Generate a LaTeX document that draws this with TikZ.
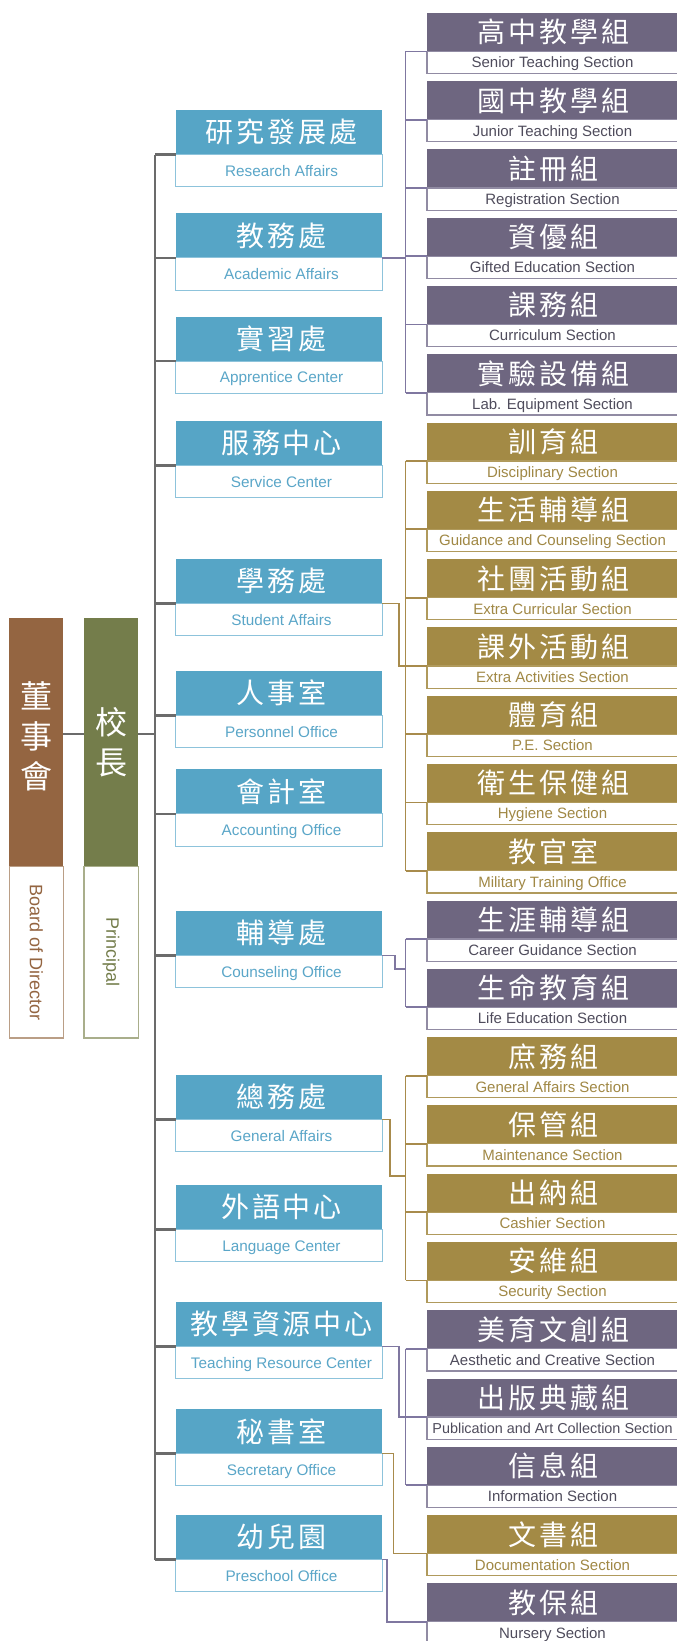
\documentclass[tikz,border=0pt]{standalone}
\usepackage{fontspec}
\setmainfont{Liberation Sans}
\newfontfamily\cjk{Noto Sans CJK TC}[LetterSpace=10.0]
\newfontfamily\cjkv{Noto Sans CJK TC}
\definecolor{blueH}{HTML}{56A5C6}
\definecolor{blueL}{HTML}{8DC3DB}
\definecolor{blueT}{HTML}{5AA6C8}
\definecolor{purpH}{HTML}{6E6680}
\definecolor{purpB}{HTML}{918BA3}
\definecolor{purpT}{HTML}{4F4C5C}
\definecolor{purpL}{HTML}{7F77A0}
\definecolor{goldH}{HTML}{A38A45}
\definecolor{goldB}{HTML}{B09A5C}
\definecolor{goldT}{HTML}{A08845}
\definecolor{goldL}{HTML}{A88B4C}
\definecolor{brownH}{HTML}{946541}
\definecolor{brownB}{HTML}{BA9E86}
\definecolor{oliveH}{HTML}{747D4B}
\definecolor{oliveB}{HTML}{A9AE8B}
\definecolor{trunkC}{HTML}{6B6B6B}
\newcommand\RBox[5]{%
  \pgfmathsetmacro\rtop{12.9+68.28*#2}
  \node[rh#3] (#1h) at (427,\rtop) {\hspace*{2pt}#4};
  \node[rs#3] (#1s) at (#1h.south west) {#5};
}
\newcommand\BBox[4]{%
  \node[bh] (#1h) at (175.7,#2) {\hspace*{5pt}#3};
  \node[bs] (#1s) at (#1h.south west) {\hspace*{5pt}#4};
}
\begin{document}
\begin{tikzpicture}[x=1pt,y=-1pt,
  hd/.style={anchor=north west, inner sep=0pt, outer sep=0pt, text=white,
    font=\cjk\fontsize{28}{30}\selectfont},
  sb/.style={anchor=north west, inner sep=0pt, outer sep=0pt, fill=white, line width=1.2pt,
    font=\fontsize{15}{17}\selectfont, text height=13pt, text depth=2.3pt},
  bh/.style={hd, fill=blueH, minimum width=206.6pt, minimum height=44.5pt},
  bs/.style={sb, draw=blueL, text=blueT, minimum width=206.6pt, minimum height=32.3pt,
    font=\fontsize{15.3}{17}\selectfont},
  rhP/.style={hd, fill=purpH, minimum width=251pt, minimum height=38.5pt},
  rsP/.style={sb, draw=purpB, text=purpT, minimum width=251pt, minimum height=22.2pt},
  rhG/.style={hd, fill=goldH, minimum width=251pt, minimum height=38.5pt},
  rsG/.style={sb, draw=goldB, text=goldT, minimum width=251pt, minimum height=22.2pt},
  trk/.style={draw=trunkC, line width=2.2pt},
  pl/.style={draw=purpL, line width=1.8pt},
  gl/.style={draw=goldL, line width=1.8pt},
  vtext/.style={text=white, font=\cjkv\fontsize{32}{40}\selectfont, align=center, inner sep=0pt}
]
\useasboundingbox (0,0) rectangle (677,1641);
\clip (0,0) rectangle (677,1641);

% Board and Principal
\node[anchor=north west, fill=brownH, minimum width=54pt, minimum height=248.7pt, inner sep=0pt, outer sep=0pt] (Bdh) at (9.3,618) {};
\node[anchor=north west, draw=brownB, line width=1.2pt, fill=white, minimum width=54pt, minimum height=171.3pt, inner sep=0pt, outer sep=0pt, text=brownH, font=\fontsize{18}{20}\selectfont] (Bds) at (Bdh.south west) {\rotatebox{-90}{Board of Director}};
\node[vtext] (Bdt) at (36.3,736) {董\\事\\會};
\node[anchor=north west, fill=oliveH, minimum width=54.3pt, minimum height=248.7pt, inner sep=0pt, outer sep=0pt] (Prh) at (84,618) {};
\node[anchor=north west, draw=oliveB, line width=1.2pt, fill=white, minimum width=54.3pt, minimum height=171.3pt, inner sep=0pt, outer sep=0pt, text=oliveH, font=\fontsize{18}{20}\selectfont] (Prs) at (Prh.south west) {\rotatebox{-90}{Principal}};
\node[vtext] (Prt) at (111.2,742) {校\\長};

% Blue offices
\BBox{B1}{110}{研究發展處}{Research Affairs}
\BBox{B2}{213.3}{教務處}{Academic Affairs}
\BBox{B3}{316.7}{實習處}{Apprentice Center}
\BBox{B4}{421}{服務中心}{Service Center}
\BBox{B5}{559}{學務處}{Student Affairs}
\BBox{B6}{671}{人事室}{Personnel Office}
\BBox{B7}{769.3}{會計室}{Accounting Office}
\BBox{B8}{911}{輔導處}{Counseling Office}
\BBox{B9}{1075}{總務處}{General Affairs}
\BBox{B10}{1185}{外語中心}{Language Center}
\BBox{B11}{1302}{教學資源中心}{Teaching Resource Center}
\BBox{B12}{1409}{秘書室}{Secretary Office}
\BBox{B13}{1515}{幼兒園}{Preschool Office}

% Sections
\RBox{R0}{0}{P}{高中教學組}{Senior Teaching Section}
\RBox{R1}{1}{P}{國中教學組}{Junior Teaching Section}
\RBox{R2}{2}{P}{註冊組}{Registration Section}
\RBox{R3}{3}{P}{資優組}{Gifted Education Section}
\RBox{R4}{4}{P}{課務組}{Curriculum Section}
\RBox{R5}{5}{P}{實驗設備組}{Lab. Equipment Section}
\RBox{R6}{6}{G}{訓育組}{Disciplinary Section}
\RBox{R7}{7}{G}{生活輔導組}{Guidance and Counseling Section}
\RBox{R8}{8}{G}{社團活動組}{Extra Curricular Section}
\RBox{R9}{9}{G}{課外活動組}{Extra Activities Section}
\RBox{R10}{10}{G}{體育組}{P.E. Section}
\RBox{R11}{11}{G}{衛生保健組}{Hygiene Section}
\RBox{R12}{12}{G}{教官室}{Military Training Office}
\RBox{R13}{13}{P}{生涯輔導組}{Career Guidance Section}
\RBox{R14}{14}{P}{生命教育組}{Life Education Section}
\RBox{R15}{15}{G}{庶務組}{General Affairs Section}
\RBox{R16}{16}{G}{保管組}{Maintenance Section}
\RBox{R17}{17}{G}{出納組}{Cashier Section}
\RBox{R18}{18}{G}{安維組}{Security Section}
\RBox{R19}{19}{P}{美育文創組}{Aesthetic and Creative Section}
\RBox{R20}{20}{P}{出版典藏組}{{\fontsize{14.4}{16}\selectfont Publication and Art Collection Section}}
\RBox{R21}{21}{P}{信息組}{Information Section}
\RBox{R22}{22}{G}{文書組}{Documentation Section}
\RBox{R23}{23}{P}{教保組}{Nursery Section}

% Trunk
\coordinate (TX) at (155,0);
\coordinate (PJ) at (155,734.3);
\draw[trk] (TX |- B1h.south west) -- (TX |- B13h.south west);
\foreach \i in {1,...,13} \draw[trk] (TX |- B\i h.south west) -- (B\i h.south west);
\draw[trk] (Bdh.east |- PJ) -- (Prh.west |- PJ);
\draw[trk] (Prh.east |- PJ) -- (PJ);

% Branch x
\coordinate (BX) at (405.5,0);
% Academic
\draw[pl] (B2h.south east) -- (BX |- B2h.south east);
\draw[pl] (BX |- R0h.south west) -- (BX |- R5h.south west);
\foreach \i in {0,...,5} \draw[pl] (BX |- R\i h.south west) -- (R\i h.south west);
% Student
\coordinate (xS) at (398.6,0);
\draw[gl] (B5h.south east) -- (xS |- B5h.south east) -- (xS |- R9h.south west) -- (R9h.south west);
\draw[gl] (BX |- R6h.south west) -- (BX |- R12h.south west);
\foreach \i in {6,...,12} \draw[gl] (BX |- R\i h.south west) -- (R\i h.south west);
% Counseling
\coordinate (xC) at (395.1,969);
\draw[pl] (B8h.south east) -- (xC |- B8h.south east) -- (xC) -- (BX |- xC);
\draw[pl] (BX |- R13h.south west) -- (BX |- R14h.south west);
\foreach \i in {13,14} \draw[pl] (BX |- R\i h.south west) -- (R\i h.south west);
% General
\coordinate (xG) at (390,1176);
\draw[gl] (B9h.south east) -- (xG |- B9h.south east) -- (xG) -- (BX |- xG);
\draw[gl] (BX |- R15h.south west) -- (BX |- R18h.south west);
\foreach \i in {15,...,18} \draw[gl] (BX |- R\i h.south west) -- (R\i h.south west);
% Teaching resource
\coordinate (xT) at (398.6,0);
\draw[pl] (B11h.south east) -- (xT |- B11h.south east) -- (xT |- R20h.south west) -- (R20h.south west);
\draw[pl] (BX |- R19h.south west) -- (BX |- R21h.south west);
\foreach \i in {19,20,21} \draw[pl] (BX |- R\i h.south west) -- (R\i h.south west);
% Secretary
\coordinate (xSe) at (393.4,0);
\draw[gl] (B12h.south east) -- (xSe |- B12h.south east) -- (xSe |- R22h.south west) -- (R22h.south west);
% Preschool
\coordinate (xPr) at (386.6,0);
\draw[pl] (B13h.south east) -- (xPr |- B13h.south east) -- (xPr |- R23h.south west) -- (R23h.south west);
\end{tikzpicture}
\end{document}
